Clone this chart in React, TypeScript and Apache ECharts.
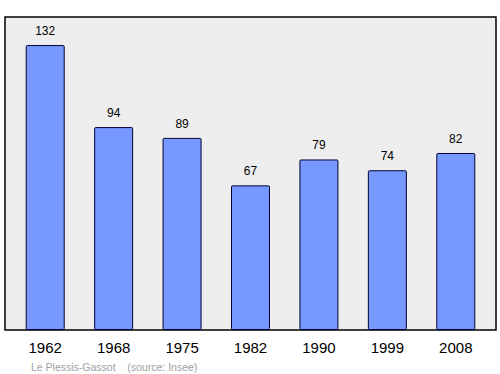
import React, { useEffect, useRef } from "react";
import * as echarts from "echarts";

const years = ["1962", "1968", "1975", "1982", "1990", "1999", "2008"];
const population = [132, 94, 89, 67, 79, 74, 82];
const sourceText = "Le Plessis-Gassot    (source: Insee)";

export default function App() {
  const ref = useRef<HTMLDivElement>(null);
  useEffect(() => {
    if (!ref.current) return;
    const chart = echarts.init(ref.current, null, { renderer: "svg" });
    chart.setOption({
      animation: false,
      backgroundColor: "#ffffff",
      grid: { left: 11, right: 10, top: 17, bottom: 44 },
      xAxis: {
        type: "category",
        data: years,
        axisLine: { show: false },
        axisTick: { show: false },
        axisLabel: {
          color: "#000",
          fontSize: 15,
          fontFamily: "Liberation Sans, Arial, sans-serif",
          margin: 10,
        },
      },
      yAxis: {
        type: "value",
        min: 0,
        max: 145,
        show: false,
        splitLine: { show: false },
      },
      graphic: [
        {
          type: "rect",
          z: -10,
          shape: { x: 5, y: 17, width: 491, height: 313 },
          style: { fill: "#eeeeee", stroke: "#000", lineWidth: 1.5 },
        },
        {
          type: "text",
          x: 31,
          y: 367,
          style: {
            text: sourceText,
            fill: "#a0a0a0",
            fontSize: 10.5,
            fontFamily: "Liberation Sans, Arial, sans-serif",
            verticalAlign: "middle",
          },
        },
      ],
      series: [
        {
          type: "bar",
          data: population,
          barWidth: 39,
          itemStyle: {
            color: "#7799ff",
            borderColor: "#000033",
            borderWidth: 1,
            borderRadius: 1,
          },
          label: {
            show: true,
            position: "top",
            distance: 8,
            color: "#000",
            fontSize: 12,
            fontFamily: "Liberation Sans, Arial, sans-serif",
          },
        },
      ],
    });
    return () => chart.dispose();
  }, []);
  return <div ref={ref} style={{ width: 500, height: 374, position: "absolute", left: 0, top: 0 }} />;
}
